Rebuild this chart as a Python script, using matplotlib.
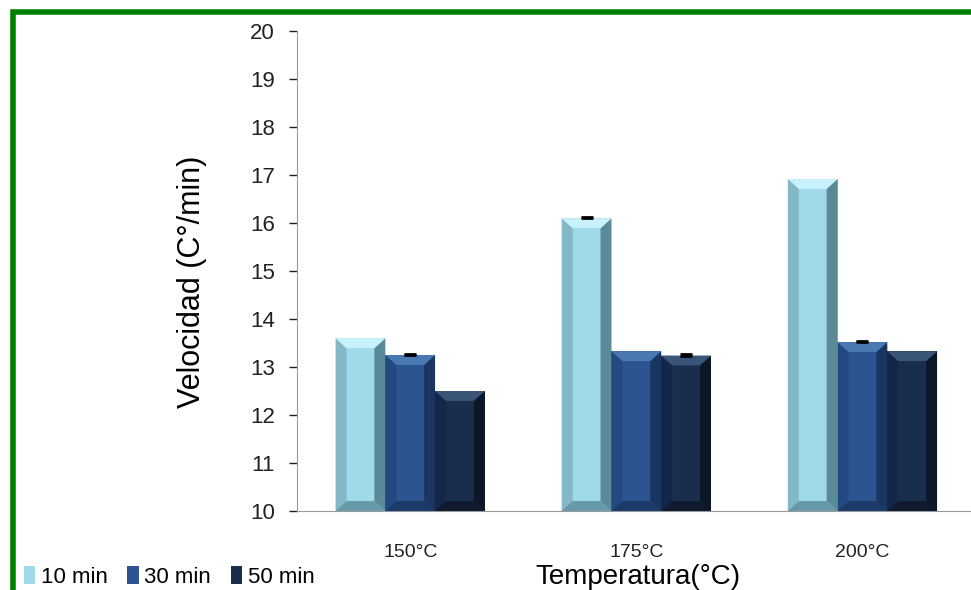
import numpy as np
import matplotlib.pyplot as plt
from matplotlib.patches import Polygon, Rectangle

plt.rcParams['font.family'] = ['Liberation Sans', 'DejaVu Sans']

# Data
temperatures = ['150°C', '175°C', '200°C']
series = ['10 min', '30 min', '50 min']
v_10 = [13.6, 16.1, 16.92]
v_30 = [13.25, 13.33, 13.52]
v_50 = [12.5, 13.24, 13.33]
err_10 = [0.0, 0.03, 0.0]
err_30 = [0.03, 0.0, 0.03]
err_50 = [0.0, 0.03, 0.0]

colors = ['#9fd9ea', '#2b5490', '#192d4c']
light = ['#c8f2fb', '#4a78b3', '#3a5578']
dark = ['#5a8a98', '#1a3560', '#0c1728']
side_l = ['#84b8c6', '#234a80', '#14264a']

fig = plt.figure(figsize=(9.71, 5.90), dpi=100)
ax = fig.add_axes([0.306, 0.134, 0.694, 0.813])

x = np.arange(len(temperatures))
width = 0.22
all_vals = [v_10, v_30, v_50]
all_err = [err_10, err_30, err_50]

for i, (vals, errs) in enumerate(zip(all_vals, all_err)):
    pos = x + (i - 1) * width
    bars = ax.bar(pos, np.array(vals) - 10, width, bottom=10, color=colors[i],
                  label=series[i], edgecolor='none', zorder=2)
    # bevel effect
    for b in bars:
        x0, y0 = b.get_x(), b.get_y()
        w, h = b.get_width(), b.get_height()
        bx = w * 0.22
        by = bx * 227 / 48 * 0.9  # horizontal bevel width in y units
        y1 = y0 + h
        ax.add_patch(Polygon([[x0, y0], [x0 + bx, y0 + by], [x0 + bx, y1 - by], [x0, y1]],
                             color=side_l[i], zorder=3, lw=0))
        ax.add_patch(Polygon([[x0 + w, y0], [x0 + w - bx, y0 + by], [x0 + w - bx, y1 - by], [x0 + w, y1]],
                             color=dark[i], zorder=3, lw=0))
        ax.add_patch(Polygon([[x0, y1], [x0 + bx, y1 - by], [x0 + w - bx, y1 - by], [x0 + w, y1]],
                             color=light[i], zorder=3, lw=0))
        ax.add_patch(Polygon([[x0, y0], [x0 + bx, y0 + by], [x0 + w - bx, y0 + by], [x0 + w, y0]],
                             color=dark[i], zorder=3, lw=0, alpha=0.8))
    for p, v, e in zip(pos, vals, errs):
        if e > 0:
            ax.errorbar(p, v, yerr=[[0], [e]], fmt='none', ecolor='black',
                        capsize=4, capthick=2, elinewidth=1, zorder=4)

ax.set_ylim(10, 20)
ax.set_yticks(range(10, 21))
ax.set_xlim(-0.5, 2.48)
ax.set_xticks(x)
ax.set_xticklabels(temperatures, fontsize=14, color='#222222')
ax.tick_params(axis='x', length=0, pad=24)
ax.tick_params(axis='y', labelsize=16, colors='#222222', length=6, width=1, pad=10)
for t in ax.get_yticklines():
    t.set_color('#888888')
for s in ['top', 'right']:
    ax.spines[s].set_visible(False)
ax.spines['left'].set_color('#999999')
ax.spines['bottom'].set_color('#999999')

fig.text(0.198, 0.522, 'Velocidad (C°/min)', rotation=90, fontsize=22,
         ha='center', va='center')
fig.text(0.657, 0.022, 'Temperatura(°C)', fontsize=20, ha='center', va='center')

handles, labels = ax.get_legend_handles_labels()
fig.legend(handles, labels, loc='lower left', bbox_to_anchor=(0.004, -0.03), ncol=3,
           frameon=False, fontsize=16, handlelength=0.5, handleheight=0.9,
           handletextpad=0.25, columnspacing=0.9)

# green border
fig.add_artist(Rectangle((0.013, -0.05), 1.2, 1.03, transform=fig.transFigure,
                         fill=False, edgecolor='#008000', lw=4))

fig.savefig('out.png', dpi=100)
